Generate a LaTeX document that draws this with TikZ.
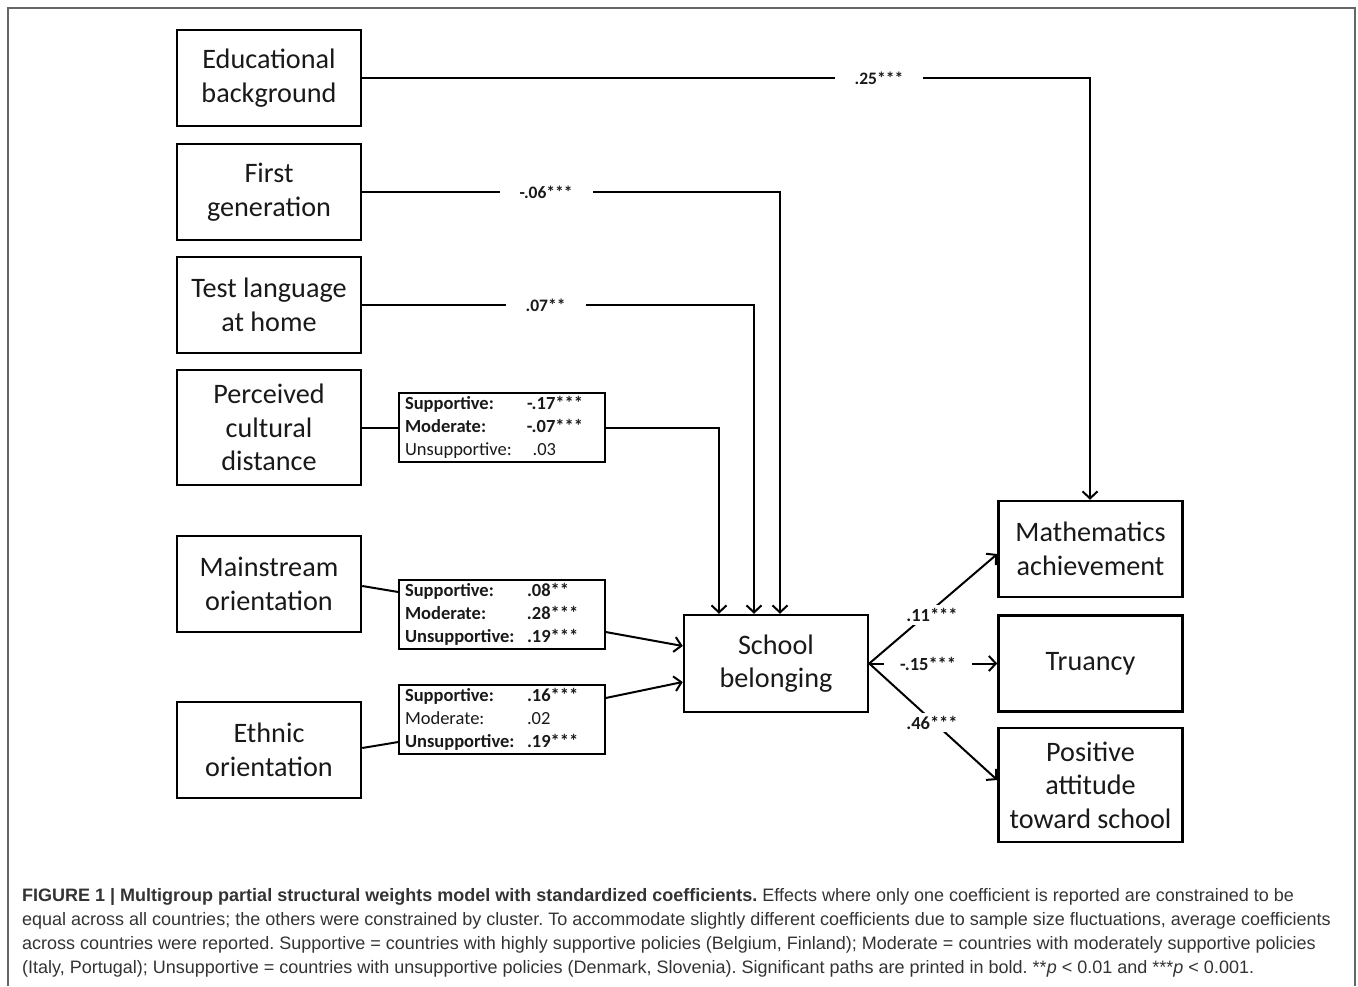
\documentclass[tikz,border=0pt]{standalone}
\usepackage{fontspec}
\setmainfont{Carlito}
\newfontfamily\capfont{Liberation Sans}
\usetikzlibrary{arrows.meta}
\frenchspacing
\begin{document}
\begin{tikzpicture}[x=1pt,y=-1pt,
  box/.style={draw,line width=2.5pt,minimum width=184pt,minimum height=96pt,align=center,
    font=\fontsize{28.2}{33.5}\selectfont,inner sep=0pt,text=black!90},
  cbox/.style={draw,line width=1.4pt,minimum width=206pt,minimum height=69pt,inner xsep=6pt,inner ysep=0pt,
    font=\fontsize{18.5}{23}\selectfont,text=black!90},
  conn/.style={line width=2pt},
  arr/.style={conn,-{Straight Barb[length=7pt,width=15pt]}},
  lab/.style={fill=white,font=\bfseries\fontsize{17.5}{20}\selectfont,inner xsep=20pt,inner ysep=3pt,text=black!90},
  lab2/.style={fill=white,font=\bfseries\fontsize{18.5}{20}\selectfont,inner xsep=4pt,inner ysep=3pt,text=black!90},
  captext/.style={anchor=base west,inner sep=0pt,font=\capfont\fontsize{18}{24}\selectfont,text=black!80}
]
\useasboundingbox (0,0) rectangle (1358,986);
\draw[black!60,line width=1.2pt] (8,986) -- (8,8) -- (1355,8) -- (1355,986);

% left column
\node[box] (edu) at (269,78) {Educational\\background};
\node[box] (fg) at (269,192) {First\\generation};
\node[box] (tl) at (269,305) {Test language\\at home};
\node[box,minimum height=115pt] (pcd) at (269,427.5) {Perceived\\cultural\\distance};
\node[box] (mo) at (269,584) {Mainstream\\orientation};
\node[box] (eo) at (269,750) {Ethnic\\orientation};

% centre and right
\node[box,minimum height=97pt] (sb) at (776,663.5) {School\\belonging};
\node[box] (ma) at (1090.5,549) {Mathematics\\achievement};
\node[box] (tr) at (1090.5,663.5) {Truancy};
\node[box,minimum height=114pt] (pa) at (1090.5,785) {Positive\\attitude\\toward school};

% coefficient boxes
\node[cbox] (c1) at (502,427.5) {\begin{tabular}{@{}p{122pt}@{}p{72pt}@{}}
\textbf{Supportive:} & \textbf{-.17***}\\
\textbf{Moderate:} & \textbf{-.07***}\\
Unsupportive: & \phantom{-}.03
\end{tabular}};
\node[cbox] (c2) at (502,614.5) {\begin{tabular}{@{}p{122pt}@{}p{72pt}@{}}
\textbf{Supportive:} & \textbf{.08**}\\
\textbf{Moderate:} & \textbf{.28***}\\
\textbf{Unsupportive:} & \textbf{.19***}
\end{tabular}};
\node[cbox] (c3) at (502,719.5) {\begin{tabular}{@{}p{122pt}@{}p{72pt}@{}}
\textbf{Supportive:} & \textbf{.16***}\\
Moderate: & .02\\
\textbf{Unsupportive:} & \textbf{.19***}
\end{tabular}};

% bend points
\coordinate (k1) at (1090,78);
\coordinate (k2) at (780,192);
\coordinate (k3) at (754,305);
\coordinate (k4) at (719,427.5);

% connectors
\draw[arr] (edu.east) -- node[lab,pos=.71]{.25***} (k1) -- (k1 |- ma.north);
\draw[arr] (fg.east) -- node[lab,pos=.44]{-.06***} (k2) -- (k2 |- sb.north);
\draw[arr] (tl.east) -- node[lab,pos=.468]{.07**} (k3) -- (k3 |- sb.north);
\draw[conn] (pcd.east) -- (c1.west);
\draw[arr] (c1.east) -- (k4) -- (k4 |- sb.north);
\draw[conn] ([yshift=-2pt]mo.east) -- ([yshift=22.5pt]c2.west);
\draw[arr] ([yshift=-17.5pt]c2.east) -- ([yshift=17.5pt]sb.west);
\draw[conn] ([yshift=2pt]eo.east) -- ([yshift=-22.5pt]c3.west);
\draw[arr] ([yshift=21.5pt]c3.east) -- ([yshift=-18.5pt]sb.west);

\draw[arr] (sb.east) -- node[lab2,pos=.49,yshift=-5pt]{.11***} ([yshift=-5pt]ma.west);
\draw[arr] (sb.east) -- node[lab2,pos=.46,inner xsep=16pt]{-.15***} (tr.west);
\draw[arr] (sb.east) -- node[lab2,pos=.49,yshift=-2pt]{.46***} ([yshift=5pt]pa.west);

% caption
\node[captext] (cap1) at (22,901) {\textbf{FIGURE 1 | Multigroup partial structural weights model with standardized coefficients.} Effects where only one coefficient is reported are constrained to be};
\node[captext] (cap2) at (22,925) {equal across all countries; the others were constrained by cluster. To accommodate slightly different coefficients due to sample size fluctuations, average coefficients};
\node[captext] (cap3) at (22,949) {across countries were reported. Supportive = countries with highly supportive policies (Belgium, Finland); Moderate = countries with moderately supportive policies};
\node[captext] (cap4) at (22,973) {(Italy, Portugal); Unsupportive = countries with unsupportive policies (Denmark, Slovenia). Significant paths are printed in bold. **\textit{p} < 0.01 and ***\textit{p} < 0.001.};
\end{tikzpicture}
\end{document}
